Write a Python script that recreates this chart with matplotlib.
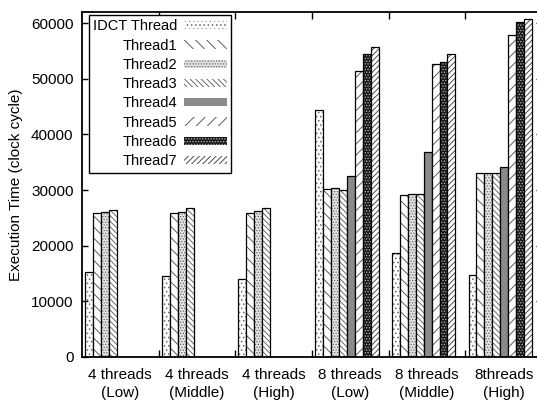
import matplotlib
matplotlib.use("Agg")
import matplotlib.pyplot as plt
import numpy as np

plt.rcParams.update({
    "font.family": ["Liberation Sans", "DejaVu Sans"],
    "font.size": 11,
    "hatch.linewidth": 0.6,
})

# ── data ─────────────────────────────────────────────────────────────────────
groups = ["4 threads\n(Low)", "4 threads\n(Middle)", "4 threads\n(High)",
          "8 threads\n(Low)", "8 threads\n(Middle)", "8threads\n(High)"]
series = ["IDCT Thread", "Thread1", "Thread2", "Thread3",
          "Thread4", "Thread5", "Thread6", "Thread7"]

idct = [15300, 14500, 14000, 44300, 18700, 14800]
thread1 = [25800, 25800, 25900, 30200, 29100, 33000]
thread2 = [26000, 26000, 26200, 30400, 29300, 33000]
thread3 = [26400, 26800, 26800, 30000, 29300, 33000]
thread4 = [0, 0, 0, 32600, 36900, 34200]
thread5 = [0, 0, 0, 51400, 52600, 57800]
thread6 = [0, 0, 0, 54500, 53000, 60200]
thread7 = [0, 0, 0, 55800, 54400, 60800]
values = [idct, thread1, thread2, thread3, thread4, thread5, thread6, thread7]

# face, hatch colour, hatch pattern
styles = [
    ("white", "#666666", "...."),
    ("white", "#444444", "\\\\\\"),
    ("#e4e4e4", "#666666", "......"),
    ("white", "#555555", "\\\\\\\\\\\\"),
    ("#8a8a8a", "#8a8a8a", None),
    ("white", "#444444", "///"),
    ("#1a1a1a", "#bbbbbb", "......"),
    ("white", "#333333", "//////"),
]

fig = plt.figure(figsize=(5.37, 4.03), dpi=100)
ax = fig.add_axes([81.8 / 537, 46 / 403, 460.2 / 537, 345 / 403])

x = np.arange(len(groups))
bw = 0.1037
off = 0.042
handles = []
for i, (name, vals, (fc, hc, hatch)) in enumerate(zip(series, values, styles)):
    pos = x - 0.5 + off + i * bw
    h = ax.bar(pos, vals, width=bw, align="edge", facecolor=fc,
               edgecolor=hc, hatch=hatch, linewidth=0, label=name)
    ax.bar(pos, vals, width=bw, align="edge", fill=False,
           edgecolor="black", linewidth=0.9)
    handles.append(h)

ax.set_xlim(-0.5, len(groups) - 0.5)
ax.set_ylim(0, 62000)
ax.set_yticks(np.arange(0, 60001, 10000))
ax.set_ylabel("Execution Time (clock cycle)", fontsize=11, labelpad=6)

ax.set_xticks(x[:-1] + 0.5)
ax.set_xticklabels([])
ax.set_xticks(x, minor=True)
ax.set_xticklabels(groups, minor=True, fontsize=11, linespacing=1.35)
ax.tick_params(axis="x", which="minor", length=0, pad=8)
ax.tick_params(axis="x", which="major", direction="in", length=5,
               top=True, width=1)
ax.tick_params(axis="y", direction="in", length=4, right=True, width=1,
               pad=6)
for s in ax.spines.values():
    s.set_linewidth(1.3)

leg = ax.legend(handles=handles, loc="upper left",
                bbox_to_anchor=(0.0156, 0.991), borderaxespad=0,
                markerfirst=False, fontsize=10.5, handlelength=2.9,
                handleheight=0.5, handletextpad=0.45, labelspacing=0.36,
                borderpad=0.3, fancybox=False, framealpha=1,
                edgecolor="black")
leg.get_frame().set_linewidth(1.0)

fig.savefig("out.png", dpi=100)
